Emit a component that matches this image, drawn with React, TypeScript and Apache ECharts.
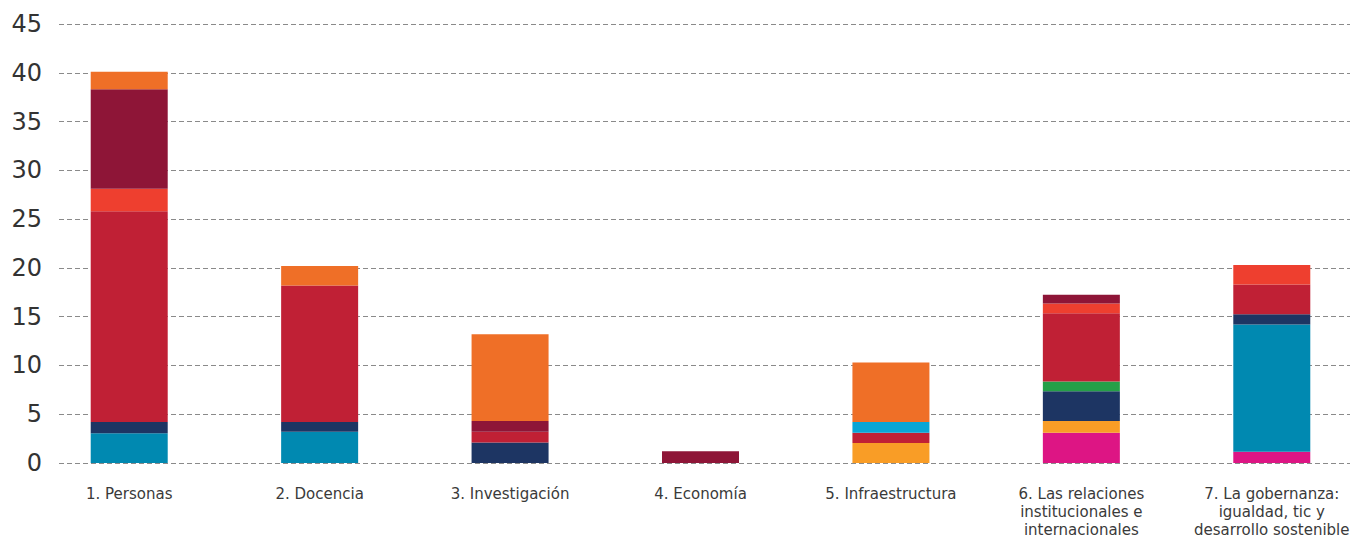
import React, { useEffect, useRef } from "react";
import * as echarts from "echarts";

const categories = [
  "1. Personas",
  "2. Docencia",
  "3. Investigación",
  "4. Economía",
  "5. Infraestructura",
  "6. Las relaciones\ninstitucionales e\ninternacionales",
  "7. La gobernanza:\nigualdad, tic y\ndesarrollo sostenible",
];

const yTicks = { min: 0, max: 45, interval: 5 };

// stacked from bottom to top
const magenta = [0, 0, 0, 0, 0, 3.1, 1.15];
const yellowOrange = [0, 0, 0, 0, 2.05, 1.2, 0];
const teal = [3.05, 3.2, 0, 0, 0, 0, 13.05];
const navy = [1.15, 1.0, 2.1, 0, 0, 3.05, 1.05];
const green = [0, 0, 0, 0, 0, 1.0, 0];
const red = [21.6, 14.0, 1.1, 0, 1.05, 7.0, 3.05];
const redOrange = [2.3, 0, 0, 0, 0, 1.0, 2.0];
const maroon = [10.2, 0, 1.1, 1.2, 0, 0.9, 0];
const cyan = [0, 0, 0, 0, 1.1, 0, 0];
const orange = [1.8, 2.0, 8.9, 0, 6.1, 0, 0];

const seriesDefs = [
  { name: "Magenta", data: magenta, color: "#DD1584" },
  { name: "Amarillo", data: yellowOrange, color: "#F99D26" },
  { name: "Azul petróleo", data: teal, color: "#0089B1" },
  { name: "Azul marino", data: navy, color: "#1D3563" },
  { name: "Verde", data: green, color: "#259F48" },
  { name: "Rojo", data: red, color: "#C02035" },
  { name: "Rojo anaranjado", data: redOrange, color: "#EE3F2F" },
  { name: "Granate", data: maroon, color: "#8E1537" },
  { name: "Celeste", data: cyan, color: "#09A6D6" },
  { name: "Naranja", data: orange, color: "#EF6F27" },
];

export default function App() {
  const ref = useRef<HTMLDivElement>(null);

  useEffect(() => {
    if (!ref.current) return;
    const chart = echarts.init(ref.current, null, { renderer: "svg" });
    const option: any = {
      animation: false,
      backgroundColor: "#ffffff",
      grid: [
        { left: 59, right: 17, top: 24, bottom: 80 },
        { left: 34, right: 0, top: 24, bottom: 80 },
      ],
      xAxis: [
        {
          type: "category",
          gridIndex: 0,
          data: categories,
          show: false,
        },
        {
          type: "category",
          gridIndex: 1,
          data: categories,
          axisLine: { show: false },
          axisTick: { show: false },
          axisLabel: {
            interval: 0,
            margin: 22,
            color: "#3a3a3a",
            fontFamily: "DejaVu Sans",
            fontSize: 15,
            lineHeight: 18,
          },
        },
      ],
      yAxis: [
        {
          type: "value",
          gridIndex: 0,
          min: yTicks.min,
          max: yTicks.max,
          interval: yTicks.interval,
          axisLine: { show: false },
          axisTick: { show: false },
          axisLabel: {
            margin: 17,
            color: "#333333",
            fontFamily: "DejaVu Sans",
            fontSize: 24,
          },
          splitLine: {
            show: true,
            lineStyle: { color: "#8a8a8a", type: [5, 3], width: 1 },
          },
        },
        {
          type: "value",
          gridIndex: 1,
          min: yTicks.min,
          max: yTicks.max,
          interval: yTicks.interval,
          show: false,
          splitLine: { show: false },
        },
      ],
      series: seriesDefs.map((s) => ({
        name: s.name,
        type: "bar",
        stack: "total",
        xAxisIndex: 1,
        yAxisIndex: 1,
        barWidth: 77,
        data: s.data,
        itemStyle: { color: s.color },
      })),
    };
    chart.setOption(option);
    return () => chart.dispose();
  }, []);

  return (
    <div
      ref={ref}
      style={{ position: "fixed", left: 0, top: 0, width: 1367, height: 543 }}
    />
  );
}
